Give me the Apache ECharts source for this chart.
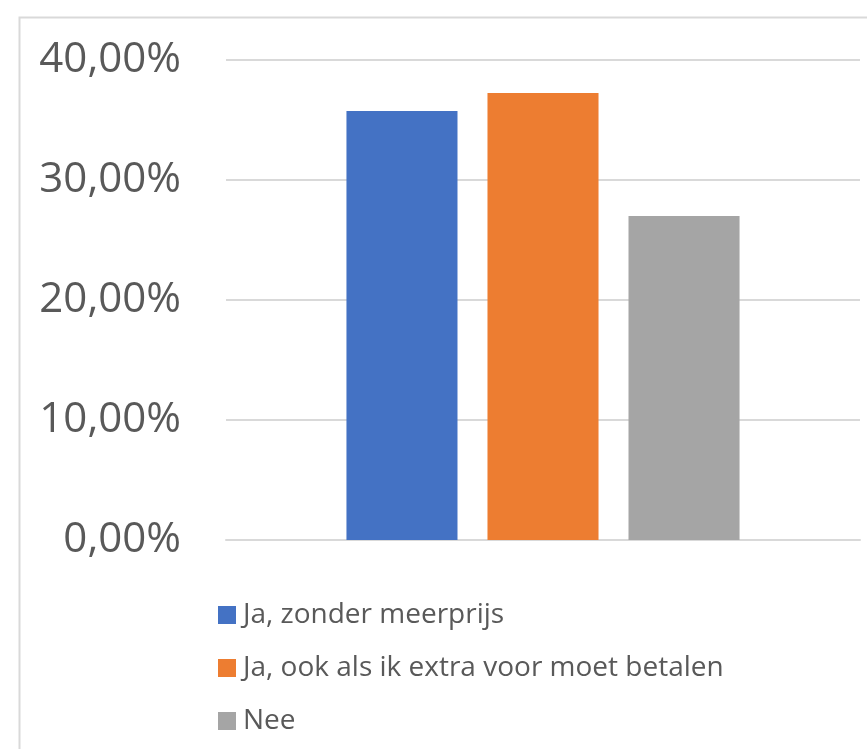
<!DOCTYPE html>
<html>
<head>
<meta charset="utf-8">
<script src="https://cdn.jsdelivr.net/npm/echarts@6/dist/echarts.min.js"></script>
<style>
html,body{margin:0;padding:0;background:#fff;}
#chart{width:867px;height:749px;}
</style>
</head>
<body>
<div id="chart"></div>
<script>
const categories = [''];
const seriesNames = ['Ja, zonder meerprijs', 'Ja, ook als ik extra voor moet betalen', 'Nee'];
const seriesValues = [[0.3575], [0.3725], [0.27]];
const seriesColors = ['#4472C4', '#ED7D31', '#A5A5A5'];
const yTicks = [0, 0.1, 0.2, 0.3, 0.4];

const chart = echarts.init(document.getElementById('chart'));
const fmt = v => (v * 100).toFixed(2).replace('.', ',') + '%';
chart.setOption({
  animation: false,
  textStyle: { fontFamily: 'Open Sans' },
  graphic: [{
    type: 'rect',
    shape: { x: 19.5, y: 17.5, width: 900, height: 800 },
    style: { fill: 'none', stroke: '#d9d9d9', lineWidth: 2 },
    silent: true
  }],
  grid: { left: 226, right: 7, top: 60, bottom: 209, containLabel: false },
  legend: seriesNames.map((n, i) => ({
    orient: 'vertical',
    left: 213,
    top: 596 + i * 53,
    itemWidth: 18,
    itemHeight: 18,
    icon: 'rect',
    textStyle: { fontSize: 28, color: '#595959', fontFamily: 'Open Sans', padding: [0, 0, 0, 2] },
    data: [n]
  })),
  xAxis: {
    type: 'category',
    data: categories,
    axisLine: { lineStyle: { color: '#d9d9d9', width: 2 } },
    axisTick: { show: false },
    axisLabel: { show: false }
  },
  yAxis: {
    type: 'value',
    min: yTicks[0],
    max: yTicks[yTicks.length - 1],
    interval: 0.1,
    axisLine: { show: false },
    axisTick: { show: false },
    splitLine: { lineStyle: { color: '#d9d9d9', width: 2 } },
    axisLabel: { formatter: fmt, fontSize: 42, color: '#595959', margin: 45, fontFamily: 'Open Sans', padding: [5, 0, 0, 0] }
  },
  series: seriesNames.map((n, i) => ({
    name: n,
    type: 'bar',
    data: seriesValues[i],
    itemStyle: { color: seriesColors[i] },
    barGap: '27%',
    barCategoryGap: '38%'
  }))
});
</script>
</body>
</html>
